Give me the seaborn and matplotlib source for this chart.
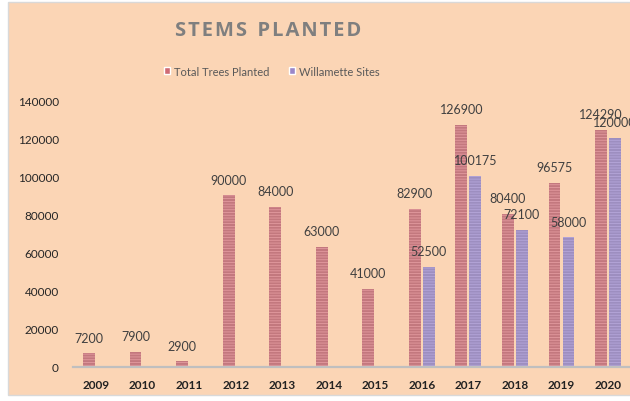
import numpy as np
import pandas as pd
import matplotlib
matplotlib.use("Agg")
import matplotlib.pyplot as plt
from matplotlib.patches import Rectangle, Patch
import seaborn as sns

# data
years = [2009, 2010, 2011, 2012, 2013, 2014, 2015, 2016, 2017, 2018, 2019, 2020]
total_trees = [7200, 7900, 2900, 90000, 84000, 63000, 41000, 82900, 126900, 80400, 96575, 124290]
willamette = [np.nan] * 7 + [52500, 100175, 72100, 68000, 120000]
willamette_text = ["52500", "100175", "72100", "58000", "120000"]
series_names = ["Total Trees Planted", "Willamette Sites"]

df = pd.DataFrame({
    "Year": years * 2,
    "Stems": total_trees + willamette,
    "Series": [series_names[0]] * len(years) + [series_names[1]] * len(years),
})

red = "#CF6B74"
purple = "#9A86C8"
peach = "#FBD5B5"

sns.set_style("white")
plt.rcParams["font.family"] = ["Lato", "DejaVu Sans"]
plt.rcParams["hatch.linewidth"] = 0.6

fig = plt.figure(figsize=(6.3, 4.02), dpi=100)
fig.patch.set_facecolor("white")
fig.add_artist(Rectangle((8 / 630, 6 / 402), 1.0, 393 / 402, transform=fig.transFigure,
                         facecolor=peach, edgecolor="#D9D9D9", linewidth=1, zorder=-10))

ax = fig.add_axes([0.1154, 0.0846, 0.8867, 0.664])
ax.set_facecolor("none")

sns.barplot(data=df, x="Year", y="Stems", hue="Series", hue_order=series_names,
            palette=[red, purple], width=0.6, gap=0.15, ax=ax, legend=False)

# striped look on the bars
for cont, light in zip(ax.containers, ["#E39A9F", "#B5A6DA"]):
    for bar in cont:
        bar.set_hatch("------")
        bar.set_edgecolor(light)
        bar.set_linewidth(0)

will_lookup = {v: t for v, t in zip(willamette[7:], willamette_text)}
for cont, which in zip(ax.containers, series_names):
    labs = []
    for bar in cont:
        h = bar.get_height()
        if np.isnan(h):
            labs.append("")
        elif which == series_names[0]:
            labs.append(f"{int(round(h))}")
        else:
            labs.append(will_lookup.get(h, f"{int(round(h))}"))
    ax.bar_label(cont, labels=labs, padding=7, fontsize=9, color="#404040")

ax.set_ylim(0, 140000)
ax.set_yticks(range(0, 140001, 20000))
ax.set_xlabel("")
ax.set_ylabel("")
for s in ["top", "right", "left"]:
    ax.spines[s].set_visible(False)
ax.spines["bottom"].set_color("#BFBFBF")
ax.spines["bottom"].set_linewidth(1.6)
ax.tick_params(axis="y", length=0, pad=10, labelsize=8.5, labelcolor="#262626")
ax.tick_params(axis="x", length=0, pad=9, labelsize=8.5, labelcolor="#222222")
for t in ax.get_xticklabels():
    t.set_fontweight("bold")

fig.text(268 / 630, 1 - 31 / 402, "S\u200aT\u200aE\u200aM\u200aS  P\u200aL\u200aA\u200aN\u200aT\u200aE\u200aD",
         ha="center", va="center", fontsize=14.5, fontweight="bold", color="#7F7F7F",
         family=["Open Sans", "DejaVu Sans"])

handles = [Patch(facecolor=red, label=series_names[0]), Patch(facecolor=purple, label=series_names[1])]
fig.legend(handles=handles, loc="center", bbox_to_anchor=(272 / 630, 1 - 72 / 402), ncol=2,
           frameon=False, fontsize=8, labelcolor="#595959", handlelength=0.55, handleheight=0.55,
           handletextpad=0.35, columnspacing=1.8)

fig.savefig("out.png", dpi=100, facecolor=fig.get_facecolor())
